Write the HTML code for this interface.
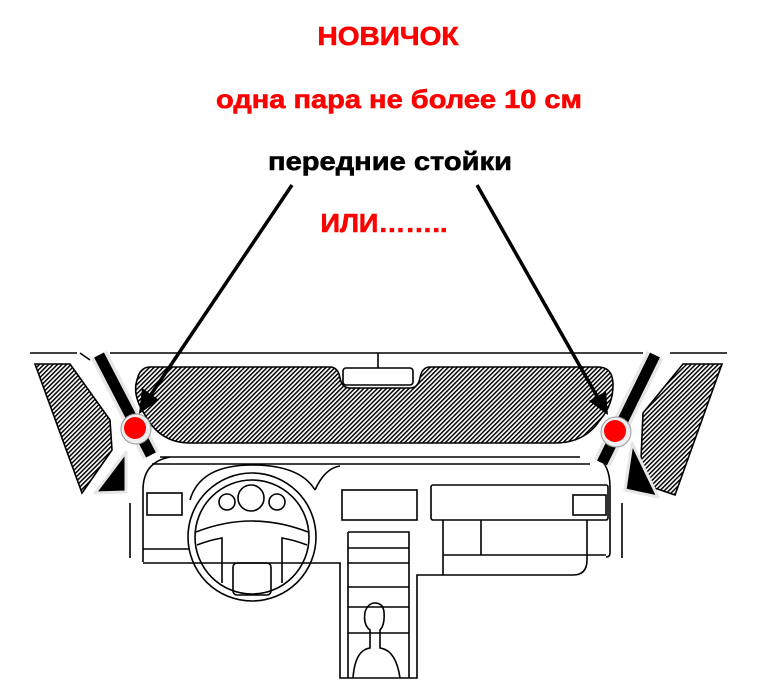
<!DOCTYPE html>
<html><head><meta charset="utf-8"><style>html,body{margin:0;padding:0;background:#fff}svg{display:block}</style></head>
<body>
<svg width="765" height="698" viewBox="0 0 765 698" xmlns="http://www.w3.org/2000/svg">
<defs>
<pattern id="h" width="3.2" height="3.2" patternUnits="userSpaceOnUse" patternTransform="rotate(45)">
<rect width="3.2" height="3.2" fill="#fff"/><rect width="1.5" height="3.2" fill="#000"/>
</pattern>
</defs>
<g font-family="Liberation Sans, sans-serif" font-weight="bold" text-anchor="middle" stroke-width="0.6">
<text x="388" y="45" font-size="26" fill="#f00" stroke="#f00" textLength="141" lengthAdjust="spacingAndGlyphs">НОВИЧОК</text>
<text x="399" y="108" font-size="26" fill="#f00" stroke="#f00" textLength="366" lengthAdjust="spacingAndGlyphs">одна пара не более 10 см</text>
<text x="390" y="170" font-size="26" fill="#000" stroke="#000" textLength="244" lengthAdjust="spacingAndGlyphs">передние стойки</text>
<text x="384" y="232" font-size="26" fill="#f00" stroke="#f00" textLength="127" lengthAdjust="spacingAndGlyphs">ИЛИ……..</text>
</g>
<g fill="none" stroke="#000" stroke-width="1.6">
<path d="M30 353 H77 M110 353 H643 M670 353 H727"/>
<path d="M80 353 L90 360"/>
<path d="M378 353 V368"/>
<rect x="343" y="368" width="70" height="17" rx="3" fill="#fff"/>
<path d="M150 367 H330 Q338 367 340 378 Q342 388 350 388 H410 Q418 388 420 378 Q422 367 430 367 H598 Q613 367 613 385 Q613 405 600 420 Q585 443 555 443 H190 Q160 443 145 415 Q132 395 137 380 Q140 367 150 367 Z" fill="url(#h)"/>
<path d="M35 364 H70 L110 420 L112 450 L82 493 Z" fill="url(#h)"/>
<path d="M683 364 H722 L675 495 L640 483 L643 413 Z" fill="url(#h)"/>
<path d="M160 457 H580 M152 464 H590"/>
<path d="M143 562 V490 Q143 462 170 457"/>
<path d="M597 457 Q610 465 610 487 V553 Q610 557 606 557"/>
<path d="M143 549 H190 M143 563 H340 V678 H417 V575 H443"/>
<path d="M130 503 V558 M622 503 V558"/>
<rect x="147" y="493" width="35" height="22"/>
<path d="M190 500 Q200 465 252 465 Q300 465 315 490"/>
<path d="M315 490 Q325 468 340 466"/>
<circle cx="252" cy="537" r="64"/>
<circle cx="252" cy="537" r="57"/>
<circle cx="227" cy="502" r="8"/>
<circle cx="251" cy="498" r="13"/>
<circle cx="277" cy="502" r="8"/>
<path d="M196 532 Q252 510 308 532 M197 545 Q210 540 222 538 V583 M307 545 Q294 540 282 538 V583"/>
<rect x="233" y="563" width="38" height="32" rx="4"/>
<rect x="342" y="490" width="75" height="30"/>
<path d="M348 532 V678 M348 532 H409 V678 M348 548 H409 M348 563 H409 M348 587 H409 M348 607 H409 M348 633 H409"/>
<path d="M353 678 Q355 650 370 648 V630 Q363 625 365 612 Q368 603 375 603 Q383 603 384 612 Q385 625 380 630 V648 Q396 650 400 678"/>
<rect x="431" y="485" width="177" height="35" rx="2"/>
<rect x="573" y="495" width="33" height="20"/>
<path d="M443 520 V575 H573 Q587 575 587 560 V520 M481 520 V555 M443 555 H606"/>
</g>
<g stroke-linejoin="round">
<path d="M99 355 L151 455" stroke="#e6e6e6" stroke-width="18"/>
<path d="M99 355 L151 455" stroke="#000" stroke-width="11"/>
<path d="M95 493 L126 492 L126 452 Z" fill="#000" stroke="#e6e6e6" stroke-width="3"/>
<path d="M655 355 L602 463" stroke="#e6e6e6" stroke-width="18"/>
<path d="M655 355 L602 463" stroke="#000" stroke-width="11"/>
<path d="M625 490 L658 497 L632 443 Z" fill="#000" stroke="#e6e6e6" stroke-width="3"/>
</g>
<g stroke="#000" stroke-width="3.5">
<path d="M292 185 L150 396"/>
<path d="M477 185 L598 398"/>
</g>
<path d="M139 414 L142 388 L159 400 Z" fill="#000"/>
<path d="M608 415 L589 401 L606 391 Z" fill="#000"/>
<circle cx="136" cy="429" r="15" fill="#eee" stroke="#999" stroke-width="1"/>
<circle cx="135" cy="428" r="11" fill="#f00"/>
<circle cx="616" cy="432" r="15" fill="#eee" stroke="#999" stroke-width="1"/>
<circle cx="615" cy="431" r="11" fill="#f00"/>
</svg>
</body></html>
